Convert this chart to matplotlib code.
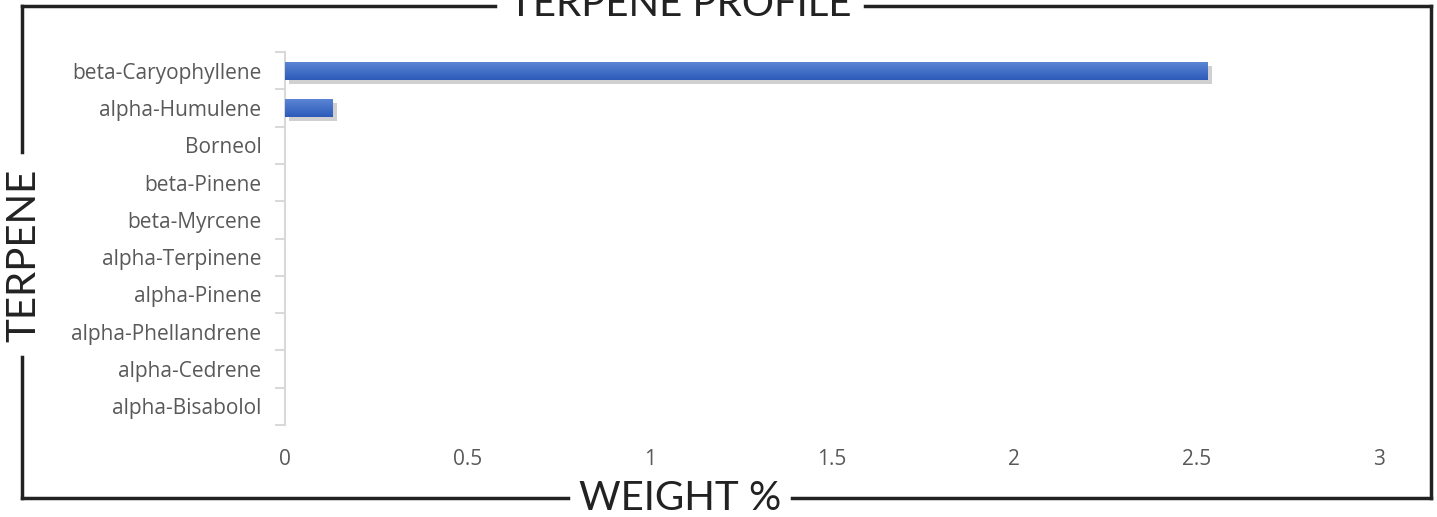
import matplotlib
matplotlib.use("Agg")
import matplotlib.pyplot as plt
import matplotlib.patheffects as pe
from matplotlib.colors import LinearSegmentedColormap
from matplotlib.lines import Line2D
import numpy as np

terpenes = ["beta-Caryophyllene", "alpha-Humulene", "Borneol", "beta-Pinene",
            "beta-Myrcene", "alpha-Terpinene", "alpha-Pinene", "alpha-Phellandrene",
            "alpha-Cedrene", "alpha-Bisabolol"]
weights = [2.53, 0.13, 0, 0, 0, 0, 0, 0, 0, 0]
xticks = [0, 0.5, 1, 1.5, 2, 2.5, 3]
xticklabels = ["0", "0.5", "1", "1.5", "2", "2.5", "3"]

W, H = 1437, 517
fig = plt.figure(figsize=(W / 100, H / 100), dpi=100)
fig.patch.set_facecolor("white")

def fx(px):
    return px / W

def fy(py):
    return 1 - py / H

ax = fig.add_axes([fx(285), fy(425), fx(1379) - fx(285), fy(52) - fy(425)])
y = np.arange(len(terpenes))
bars = ax.barh(y, weights, height=0.48, color="#3b69c6", zorder=3)

# soft shadow + vertical gradient like the excel bars
grad = LinearSegmentedColormap.from_list("bar", ["#5b85d4", "#2c5bb9"])
for b in bars:
    b.set_path_effects([pe.SimplePatchShadow(offset=(3, -3), shadow_rgbFace="#666666", alpha=0.3),
                        pe.Normal()])
    if b.get_width() > 0:
        x0, y0 = b.get_x(), b.get_y()
        im = ax.imshow(np.linspace(0, 1, 50).reshape(-1, 1), cmap=grad, aspect="auto",
                       extent=[x0, x0 + b.get_width(), y0 + b.get_height(), y0], zorder=4)
        im.set_clip_path(b)

ax.set_ylim(len(terpenes) - 0.5, -0.5)
ax.set_xlim(0, 3)
ax.set_yticks(y)
ax.set_yticklabels(terpenes, fontsize=15, color="#595959", family="Open Sans")
ax.set_yticks(np.arange(-0.5, len(terpenes)), minor=True)
ax.tick_params(axis="y", which="major", length=0, pad=17)
ax.tick_params(axis="y", which="minor", length=7, color="#d9d9d9", width=1.5, direction="out")
ax.set_xticks(xticks)
ax.set_xticklabels(xticklabels, fontsize=15, color="#595959", family="Open Sans")
ax.tick_params(axis="x", length=0, pad=17)
for s in ["top", "right", "bottom"]:
    ax.spines[s].set_visible(False)
ax.spines["left"].set_color("#d9d9d9")
ax.spines["left"].set_linewidth(1.5)

# frame around chart with gaps for the titles
frame = dict(color="#222222", linewidth=2.5, transform=fig.transFigure)
L, R, T, B = 22, 1431, 6, 498
fig.add_artist(Line2D([fx(L), fx(495)], [fy(T), fy(T)], **frame))
fig.add_artist(Line2D([fx(865), fx(R)], [fy(T), fy(T)], **frame))
fig.add_artist(Line2D([fx(R), fx(R)], [fy(T), fy(B)], **frame))
fig.add_artist(Line2D([fx(L), fx(568)], [fy(B), fy(B)], **frame))
fig.add_artist(Line2D([fx(792), fx(R)], [fy(B), fy(B)], **frame))
fig.add_artist(Line2D([fx(L), fx(L)], [fy(T), fy(152)], **frame))
fig.add_artist(Line2D([fx(L), fx(L)], [fy(357), fy(B)], **frame))

title_font = dict(family="Lato", fontsize=29, color="#222222", fontweight="normal")
fig.text(fx(680), fy(4), "TERPENE PROFILE", ha="center", va="center", **title_font)
fig.text(fx(680), fy(499), "WEIGHT %", ha="center", va="center", **title_font)
fig.text(fx(24), fy(255), "TERPENE", ha="center", va="center", rotation=90, **title_font)

fig.savefig("out.png", dpi=100)
